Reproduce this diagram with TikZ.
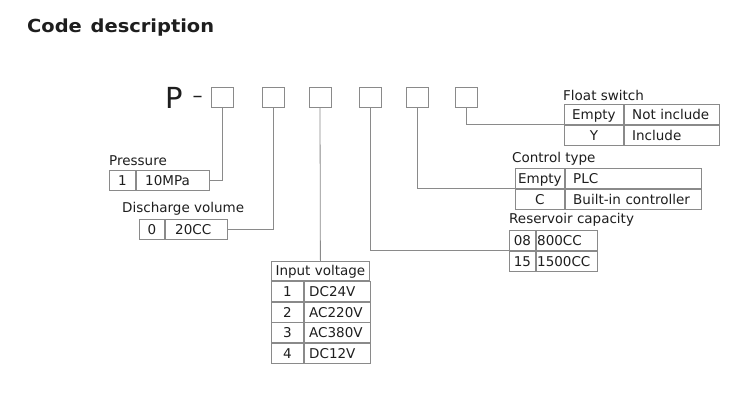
\documentclass[tikz,border=0pt]{standalone}
\usepackage{fontspec}
\setmainfont{DejaVu Sans}
\usepackage{graphicx}
\usetikzlibrary{positioning}
\definecolor{linegray}{HTML}{8A8A8A}
\definecolor{inkblack}{HTML}{1E1E1E}
\newcommand{\bodyfont}{\fontsize{13.5}{16}\selectfont}
\tikzset{
  codebox/.style={draw=linegray, line width=0.8pt, minimum width=22pt, minimum height=20pt, inner sep=0pt},
  conn/.style={draw=linegray, line width=0.8pt},
  cell/.style={draw=linegray, line width=0.8pt, minimum height=20pt, inner sep=0pt,
    text height=10pt, text depth=0pt, font=\bodyfont, text=inkblack},
  keycell/.style={cell, minimum width=#1, anchor=north west},
  valcell/.style 2 args={cell, text width=#1, inner xsep=#2, align=left},
  caption/.style={font=\bodyfont, text=inkblack, anchor=base west, inner sep=0pt},
}
\begin{document}
\begin{tikzpicture}[x=1pt, y=-1pt]
    \useasboundingbox[fill=white] (0,0) rectangle (750,405);
    % heading
    \node[anchor=base west, inner sep=0pt, text=inkblack, font=\fontsize{18}{20}\selectfont\bfseries] (title) at (27,32) {\scalebox{1.08}[1]{Code\hspace{0.45em}description}};
    % code line
    \node[anchor=base west, inner sep=0pt, text=inkblack, font=\fontsize{29}{30}\selectfont] (prefix) at (165,108) {P};
    \node[anchor=base, inner sep=0pt, text=inkblack, font=\fontsize{20}{20}\selectfont] (pdash) at (197.5,102.5) {–};
    \node[codebox] (b1) at (222,97) {};
    \node[codebox] (b2) at (273.5,97) {};
    \node[codebox] (b3) at (320,97) {};
    \node[codebox] (b4) at (370,97) {};
    \node[codebox] (b5) at (417.5,97) {};
    \node[codebox] (b6) at (466,97) {};
    % pressure
    \node[caption] (presscap) at (109,165) {Pressure};
    \node[keycell=26pt] (pk) at (109,170) {1};
    \node[valcell={55pt}{9pt}, right=0pt of pk] (pv) {10MPa};
    % discharge volume
    \node[caption] (discap) at (122,212) {Discharge volume};
    \node[keycell=25pt] (dk) at (139,219) {0};
    \node[valcell={42pt}{10pt}, right=0pt of dk] (dv) {20CC};
    % input voltage
    \node[cell, minimum width=98pt, minimum height=19pt, anchor=north west] (ivh) at (271,261) {Input voltage};
    \node[keycell=32pt] (iv1k) at (ivh.south west) {1};
    \node[valcell={56pt}{5pt}, right=0pt of iv1k] (iv1v) {DC24V};
    \node[keycell=32pt] (iv2k) at (iv1k.south west) {2};
    \node[valcell={56pt}{5pt}, right=0pt of iv2k] (iv2v) {AC220V};
    \node[keycell=32pt] (iv3k) at (iv2k.south west) {3};
    \node[valcell={56pt}{5pt}, right=0pt of iv3k] (iv3v) {AC380V};
    \node[keycell=32pt] (iv4k) at (iv3k.south west) {4};
    \node[valcell={56pt}{5pt}, right=0pt of iv4k] (iv4v) {DC12V};
    % reservoir capacity
    \node[caption] (rescap) at (509,223) {Reservoir capacity};
    \node[keycell=26pt] (r1k) at (509,230) {08};
    \node[valcell={59pt}{1pt}, right=0pt of r1k] (r1v) {800CC};
    \node[keycell=26pt] (r2k) at (r1k.south west) {15};
    \node[valcell={59pt}{1pt}, right=0pt of r2k] (r2v) {1500CC};
    % control type
    \node[caption] (ctlcap) at (512,162) {Control type};
    \node[keycell=49pt] (c1k) at (515,168) {Empty};
    \node[valcell={120pt}{8pt}, right=0pt of c1k] (c1v) {PLC};
    \node[keycell=49pt] (c2k) at (c1k.south west) {C};
    \node[valcell={120pt}{8pt}, right=0pt of c2k] (c2v) {Built-in controller};
    % float switch
    \node[caption] (fltcap) at (563,100) {Float switch};
    \node[keycell=59pt] (f1k) at (564,104) {Empty};
    \node[valcell={79pt}{8pt}, right=0pt of f1k] (f1v) {Not include};
    \node[keycell=59pt] (f2k) at (f1k.south west) {Y};
    \node[valcell={79pt}{8pt}, right=0pt of f2k] (f2v) {Include};
    % leader lines
    \draw[conn] (b1.south) |- (pv.east);
    \draw[conn] (b2.south) |- (dv.east);
    \draw[conn] (b3.south) -- (ivh.north);
    \draw[conn] (b4.south) |- (r1k.south west);
    \draw[conn] (b5.south) |- (c1k.south west);
    \draw[conn] (b6.south) |- (f1k.south west);
\end{tikzpicture}
\end{document}
